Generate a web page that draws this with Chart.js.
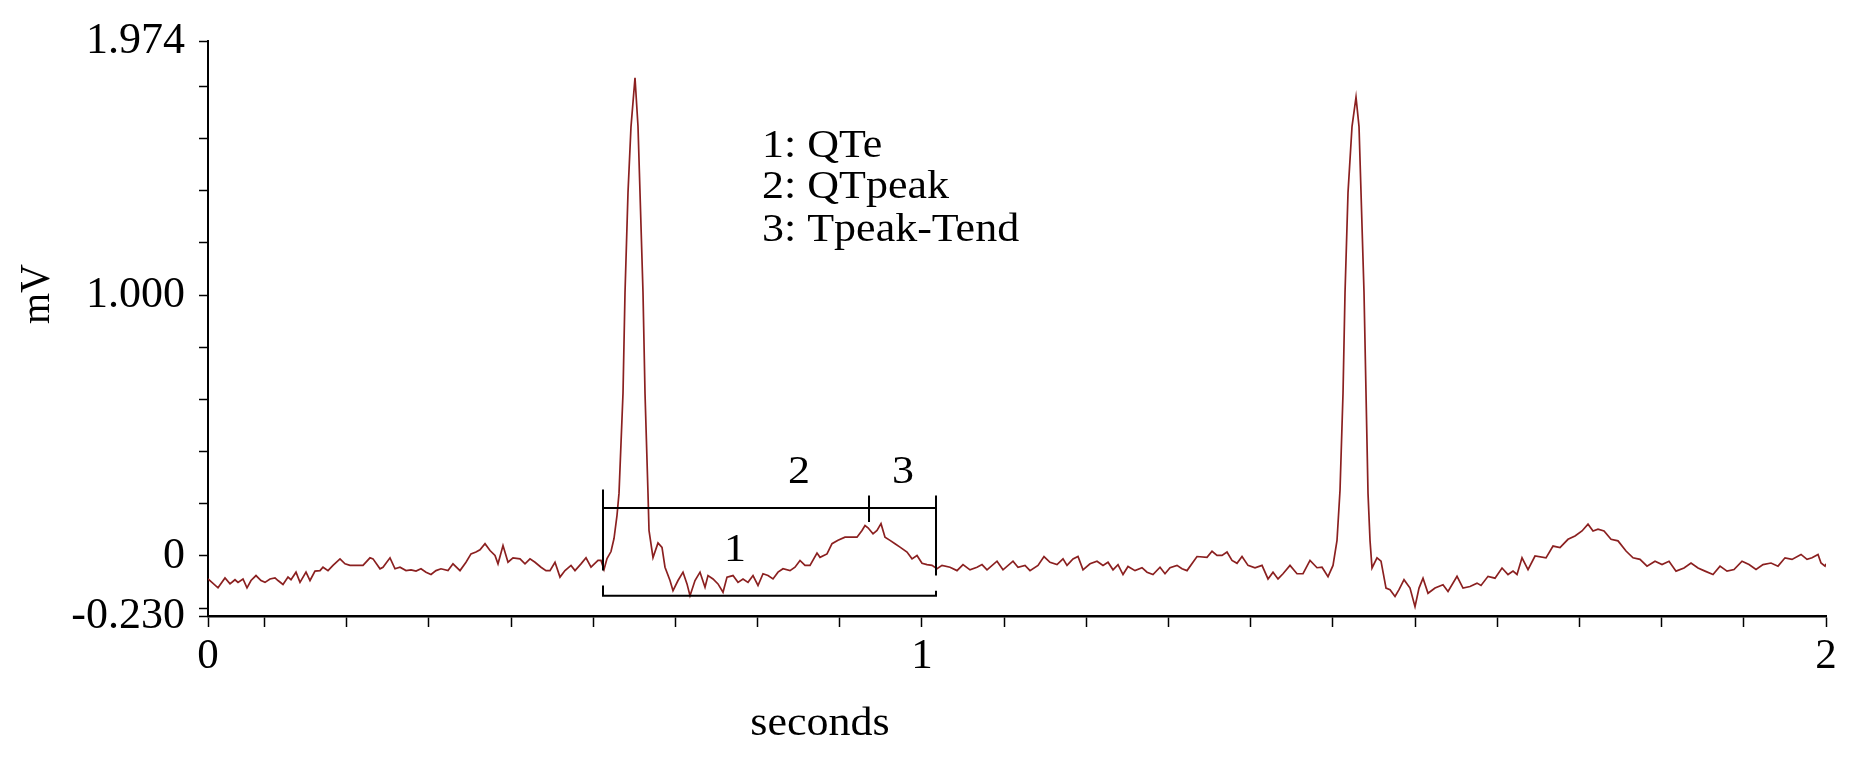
<!DOCTYPE html>
<html>
<head>
<meta charset="utf-8">
<script src="https://cdn.jsdelivr.net/npm/chart.js@4.4.1/dist/chart.umd.min.js"></script>
<style>
  html, body { margin: 0; padding: 0; background: #ffffff; }
  #wrap { width: 1868px; height: 763px; position: relative; }
</style>
</head>
<body>
<div id="wrap"><canvas id="ecg"></canvas></div>
<script>
// ---- time base of the trace ----
const startTime = 0.2102;          // seconds at the left end of the axis (labelled "0")
const samplesPerSecond = 904;

// ---- ECG trace: sample index and amplitude (mV) ----
const sampleIndex = [
  0,10,17,22,27,30,35,39,43,48,
  53,57,62,67,70,75,80,83,88,92,
  98,102,107,112,115,120,125,132,137,142,
  148,155,162,165,172,175,182,187,192,198,
  203,208,213,218,223,228,233,240,245,252,
  258,263,268,272,277,282,287,290,295,300,
  305,312,317,322,327,333,338,342,347,352,
  357,363,367,373,378,383,390,393,396,399,
  403,406,409,411,415,417,420,423,427,430,
  432,435,437,440,441,445,450,454,457,462,
  465,470,475,479,482,487,492,497,500,505,
  510,515,519,525,530,535,540,545,550,555,
  560,565,570,575,582,587,592,597,602,609,
  612,619,624,630,637,644,649,654,657,660,
  665,669,673,677,682,687,692,699,704,709,
  714,719,724,729,734,742,749,755,762,769,
  774,779,789,795,805,810,817,822,830,836,
  842,849,855,859,865,870,875,882,889,895,
  900,905,910,915,920,927,934,939,945,952,
  957,962,969,974,979,989,999,1004,1009,1014,
  1019,1024,1029,1034,1040,1047,1054,1060,1065,1070,
  1075,1082,1089,1095,1102,1109,1114,1120,1125,1129,
  1132,1135,1137,1140,1144,1148,1151,1153,1156,1158,
  1160,1162,1164,1169,1173,1178,1182,1187,1191,1196,
  1202,1207,1211,1215,1220,1227,1235,1240,1249,1255,
  1262,1269,1273,1280,1287,1294,1300,1305,1309,1314,
  1320,1327,1338,1345,1352,1360,1367,1374,1380,1385,
  1390,1396,1403,1410,1418,1425,1432,1439,1447,1454,
  1461,1468,1476,1483,1490,1497,1505,1512,1519,1526,
  1534,1541,1548,1555,1563,1570,1577,1584,1593,1599,
  1604,1610,1613,1617,1618
];
const millivolts = [
  -0.088,-0.122,-0.084,-0.107,-0.091,-0.101,-0.088,-0.122,-0.094,-0.075,
  -0.094,-0.101,-0.088,-0.084,-0.094,-0.109,-0.081,-0.091,-0.062,-0.101,
  -0.062,-0.094,-0.058,-0.056,-0.043,-0.056,-0.036,-0.011,-0.030,-0.036,
  -0.036,-0.036,-0.007,-0.011,-0.049,-0.043,-0.007,-0.049,-0.043,-0.056,
  -0.053,-0.058,-0.049,-0.062,-0.071,-0.056,-0.049,-0.056,-0.030,-0.056,
  -0.024,0.008,0.015,0.024,0.047,0.021,0.002,-0.030,0.040,-0.024,
  -0.007,-0.011,-0.030,-0.011,-0.024,-0.043,-0.056,-0.056,-0.024,-0.081,
  -0.056,-0.036,-0.056,-0.030,-0.007,-0.043,-0.017,-0.017,-0.052,-0.010,
  0.017,0.067,0.156,0.240,0.624,1.009,1.393,1.646,1.833,1.646,
  1.393,1.009,0.624,0.240,0.098,-0.006,0.050,0.033,-0.043,-0.094,
  -0.133,-0.094,-0.062,-0.107,-0.152,-0.094,-0.062,-0.120,-0.075,-0.088,
  -0.107,-0.139,-0.081,-0.075,-0.101,-0.088,-0.101,-0.075,-0.113,-0.068,
  -0.075,-0.088,-0.062,-0.049,-0.056,-0.043,-0.017,-0.036,-0.036,0.011,
  -0.005,0.008,0.047,0.060,0.072,0.072,0.072,0.098,0.117,0.108,
  0.085,0.098,0.124,0.072,0.060,0.047,0.034,0.015,-0.011,0.002,
  -0.028,-0.033,-0.036,-0.049,-0.036,-0.043,-0.056,-0.033,-0.053,-0.043,
  -0.033,-0.053,-0.020,-0.053,-0.020,-0.043,-0.036,-0.056,-0.036,-0.002,
  -0.024,-0.033,-0.011,-0.036,-0.011,-0.002,-0.053,-0.030,-0.020,-0.036,
  -0.024,-0.053,-0.033,-0.071,-0.040,-0.056,-0.045,-0.062,-0.071,-0.043,
  -0.068,-0.045,-0.036,-0.049,-0.056,-0.002,-0.005,0.018,0.002,0.002,
  0.015,-0.017,-0.028,-0.002,-0.036,-0.045,-0.036,-0.088,-0.062,-0.088,
  -0.068,-0.036,-0.068,-0.068,-0.017,-0.045,-0.043,-0.079,-0.036,0.060,
  0.252,0.624,1.009,1.393,1.646,1.759,1.646,1.393,1.009,0.624,
  0.240,0.060,-0.046,-0.007,-0.020,-0.123,-0.129,-0.155,-0.129,-0.091,
  -0.123,-0.194,-0.123,-0.085,-0.143,-0.123,-0.110,-0.136,-0.078,-0.123,
  -0.117,-0.104,-0.113,-0.078,-0.085,-0.046,-0.071,-0.058,-0.071,-0.007,
  -0.052,0.000,-0.007,0.038,0.032,0.064,0.077,0.096,0.122,0.096,
  0.103,0.096,0.064,0.058,0.019,-0.007,-0.013,-0.039,-0.020,-0.033,
  -0.020,-0.058,-0.046,-0.027,-0.046,-0.058,-0.071,-0.039,-0.058,-0.052,
  -0.020,-0.033,-0.052,-0.033,-0.027,-0.039,-0.007,-0.013,0.006,-0.013,
  -0.007,0.006,-0.027,-0.039,-0.030
];

// ---- axis ticks ----
const xTickValues = [0.2102, 0.2727, 0.3636, 0.4545, 0.5455, 0.6364, 0.7273, 0.8182, 0.9091, 1.0,
                     1.0909, 1.1818, 1.2727, 1.3636, 1.4545, 1.5455, 1.6364, 1.7273, 1.8182, 1.9091, 2.0];
const xTickLabels = ['0','','','','','','','','','1','','','','','','','','','','','2'];
const yTickValues = [-0.23, -0.2, 0, 0.2, 0.4, 0.6, 0.8, 1.0, 1.2, 1.4, 1.6, 1.8, 1.974];
const yTickLabels = ['-0.230','','0','','','','','1.000','','','','','1.974'];

// ---- interval markers (sample index of QRS onset, T peak, T end) ----
const markerSamples = [395, 661, 728];
const upperBarLevel = 0.184;     // mV, bar for intervals 2 and 3
const lowerBarLevel = -0.152;    // mV, bar for interval 1
const onsetTickRange = [0.255, -0.056];
const peakTickRange = [0.232, 0.130];
const endTickRange = [0.232, -0.075];
const lowerCapLevels = [-0.113, -0.133];

// ---- annotation text ----
const intervalNumbers = ['1', '2', '3'];
const intervalNumberSamples = [527, 591, 695];
const intervalNumberLevels = [0.021, 0.321, 0.321];
const keyLines = ['1: QTe', '2: QTpeak', '3: Tpeak-Tend'];
const keySample = 554;
const keyLevels = [1.569, 1.412, 1.247];

const toSeconds = s => startTime + s / samplesPerSecond;

const tracePoints = sampleIndex.map((s, i) => ({ x: toSeconds(s), y: millivolts[i] }));
const seg = (s1, v1, s2, v2) => [{ x: toSeconds(s1), y: v1 }, { x: toSeconds(s2), y: v2 }];
const [qOn, tPeak, tEnd] = markerSamples;
const markerSets = [
  seg(qOn, onsetTickRange[0], qOn, onsetTickRange[1]),
  seg(qOn, upperBarLevel, tEnd, upperBarLevel),
  seg(tPeak, peakTickRange[0], tPeak, peakTickRange[1]),
  seg(tEnd, endTickRange[0], tEnd, endTickRange[1]),
  [{ x: toSeconds(qOn), y: lowerCapLevels[0] }, { x: toSeconds(qOn), y: lowerBarLevel },
   { x: toSeconds(tEnd), y: lowerBarLevel }, { x: toSeconds(tEnd), y: lowerCapLevels[1] }]
];

const SERIF = '"Liberation Serif", "Times New Roman", serif';

const annotationText = {
  id: 'annotationText',
  afterDatasetsDraw(chart) {
    const { ctx, scales: { x, y } } = chart;
    ctx.save();
    ctx.fillStyle = '#000';
    ctx.textBaseline = 'middle';
    const stretched = (text, px, py, align, size) => {
      ctx.save();
      ctx.font = size + 'px ' + SERIF;
      ctx.textAlign = align;
      ctx.translate(px, py);
      ctx.scale(1.1, 1);
      ctx.fillText(text, 0, 0);
      ctx.restore();
    };
    intervalNumbers.forEach((t, i) =>
      stretched(t, x.getPixelForValue(toSeconds(intervalNumberSamples[i])), y.getPixelForValue(intervalNumberLevels[i]), 'center', 40));
    keyLines.forEach((t, i) =>
      stretched(t, x.getPixelForValue(toSeconds(keySample)), y.getPixelForValue(keyLevels[i]), 'left', 40));
    // axis titles
    stretched('seconds', 820, 724, 'center', 40);
    ctx.save();
    ctx.font = '40px ' + SERIF;
    ctx.textAlign = 'center';
    ctx.translate(38, 294);
    ctx.scale(1.05, 1);
    ctx.rotate(-Math.PI / 2);
    ctx.fillText('mV', 0, 0);
    ctx.restore();
    ctx.restore();
  }
};

const datasets = [
  {
    label: 'ECG',
    data: tracePoints,
    showLine: true,
    borderColor: '#8b2020',
    borderWidth: 1.7,
    pointRadius: 0,
    tension: 0,
    order: 1
  },
  ...markerSets.map((d, i) => ({
    label: 'marker' + i,
    data: d,
    showLine: true,
    borderColor: '#000000',
    borderWidth: 2,
    pointRadius: 0,
    tension: 0,
    order: 0
  }))
];

new Chart(document.getElementById('ecg'), {
  type: 'scatter',
  data: { datasets },
  plugins: [annotationText],
  options: {
    responsive: true,
    maintainAspectRatio: false,
    animation: false,
    events: [],
    layout: { padding: { top: 41, right: 42, left: 0, bottom: 0 } },
    plugins: { legend: { display: false }, tooltip: { enabled: false }, title: { display: false } },
    scales: {
      x: {
        type: 'linear',
        min: 0.2102,
        max: 2.0,
        afterBuildTicks: s => { s.ticks = xTickValues.map(v => ({ value: v })); },
        afterFit: s => { s.height = 147; },
        ticks: {
          autoSkip: false, maxRotation: 0, minRotation: 0, padding: 4,
          color: '#000',
          font: { family: SERIF, size: 43 },
          callback: (v, i) => xTickLabels[i]
        },
        grid: { display: true, drawOnChartArea: false, drawTicks: true, tickLength: 11, tickColor: '#000', tickWidth: 1.5 },
        border: { display: true, color: '#000', width: 2.5 }
      },
      y: {
        type: 'linear',
        min: -0.23,
        max: 1.974,
        afterBuildTicks: s => { s.ticks = yTickValues.map(v => ({ value: v })); },
        afterFit: s => { s.width = 208; },
        ticks: {
          autoSkip: false, padding: 14,
          color: '#000',
          font: { family: SERIF, size: 44 },
          callback: (v, i) => yTickLabels[i]
        },
        grid: { display: true, drawOnChartArea: false, drawTicks: true, tickLength: 9, tickColor: '#000', tickWidth: 1.5 },
        border: { display: true, color: '#000', width: 2 }
      }
    }
  }
});
</script>
</body>
</html>
